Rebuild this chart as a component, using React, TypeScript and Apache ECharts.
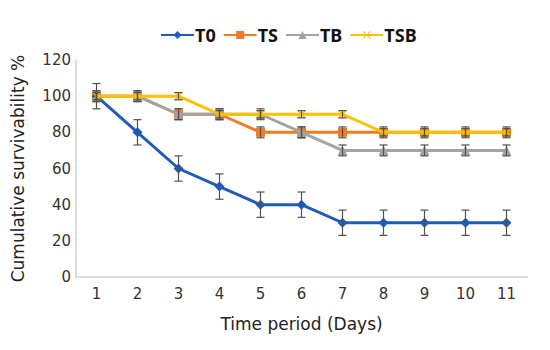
import React, { useEffect, useRef } from "react";
import * as echarts from "echarts";

const days = ["1", "2", "3", "4", "5", "6", "7", "8", "9", "10", "11"];
const t0 = [100, 80, 60, 50, 40, 40, 30, 30, 30, 30, 30];
const ts = [100, 100, 90, 90, 80, 80, 80, 80, 80, 80, 80];
const tb = [100, 100, 90, 90, 90, 80, 70, 70, 70, 70, 70];
const tsb = [100, 100, 100, 90, 90, 90, 90, 80, 80, 80, 80];
const t0Err = [7, 7, 7, 7, 7, 7, 7, 7, 7, 7, 7];
const tsErr = [3, 3, 3, 3, 3, 3, 3, 3, 3, 3, 3];
const tbErr = [3, 3, 3, 3, 3, 3, 3, 3, 3, 3, 3];
const tsbErr = [2, 2, 2, 2, 2, 2, 2, 2, 2, 2, 2];

const colors = ["#1F5BBA", "#F07B22", "#A3A3A3", "#FFC000"];
const crossPath = "path://M0,1L1,0L5,4L9,0L10,1L6,5L10,9L9,10L5,6L1,10L0,9L4,5Z";

function errData(vals: number[], errs: number[]) {
  return vals.map((v, i) => [i, v - errs[i], v + errs[i]]);
}

function errSeries(vals: number[], errs: number[]) {
  return {
    type: "custom",
    z: 10,
    silent: true,
    renderItem: (params: any, api: any) => {
      const x = api.value(0);
      const lo = api.coord([x, api.value(1)]);
      const hi = api.coord([x, api.value(2)]);
      const w = 4;
      const style = { stroke: "#505050", lineWidth: 1.2 };
      return {
        type: "group",
        children: [
          { type: "line", shape: { x1: lo[0], y1: lo[1], x2: hi[0], y2: hi[1] }, style },
          { type: "line", shape: { x1: lo[0] - w, y1: lo[1], x2: lo[0] + w, y2: lo[1] }, style },
          { type: "line", shape: { x1: hi[0] - w, y1: hi[1], x2: hi[0] + w, y2: hi[1] }, style },
        ],
      };
    },
    data: errData(vals, errs),
  };
}

export default function App() {
  const ref = useRef<HTMLDivElement>(null);
  useEffect(() => {
    const chart = echarts.init(ref.current!, undefined, { renderer: "svg" });
    const font = "DejaVu Sans";
    chart.setOption({
      animation: false,
      color: colors,
      textStyle: { fontFamily: font },
      legend: {
        top: 21,
        left: 155,
        itemWidth: 33,
        itemHeight: 10,
        itemGap: 7,
        data: ["T0", "TS", "TB", "TSB"],
        textStyle: { fontSize: 18, fontWeight: "bold", color: "#111", fontFamily: "Noto Sans", padding: [0, 0, 0, -4] },
      },
      grid: { left: 76, right: 23, top: 60, bottom: 73 },
      xAxis: {
        type: "category",
        data: days,
        boundaryGap: true,
        name: "Time period (Days)",
        nameLocation: "middle",
        nameGap: 38,
        nameTextStyle: { fontSize: 17, color: "#222", fontFamily: font },
        axisLine: { lineStyle: { color: "#d0d0d0", width: 1.5 } },
        axisTick: { show: false },
        axisLabel: { fontSize: 15, color: "#333", margin: 9 },
      },
      yAxis: {
        type: "value",
        min: 0,
        max: 120,
        interval: 20,
        name: "Cumulative survivability %",
        nameLocation: "middle",
        nameGap: 50,
        nameTextStyle: { fontSize: 17, color: "#222", fontFamily: font },
        axisLine: { show: true, lineStyle: { color: "#d0d0d0", width: 1.5 } },
        axisTick: { show: false },
        splitLine: { show: false },
        axisLabel: { fontSize: 15, color: "#333", margin: 5 },
      },
      series: [
        { name: "T0", type: "line", data: t0, symbol: "diamond", symbolSize: 10, lineStyle: { width: 3 }, z: 5 },
        { name: "TS", type: "line", data: ts, symbol: "rect", symbolSize: 9, lineStyle: { width: 3 }, z: 3 },
        { name: "TB", type: "line", data: tb, symbol: "triangle", symbolSize: 10, lineStyle: { width: 3 }, z: 4 },
        { name: "TSB", type: "line", data: tsb, symbol: crossPath, symbolSize: 9, lineStyle: { width: 3 }, z: 6 },
        errSeries(t0, t0Err),
        errSeries(ts, tsErr),
        errSeries(tb, tbErr),
        errSeries(tsb, tsbErr),
      ],
    });
    return () => chart.dispose();
  }, []);
  return <div ref={ref} style={{ position: "absolute", left: 0, top: 0, width: 550, height: 350 }} />;
}
